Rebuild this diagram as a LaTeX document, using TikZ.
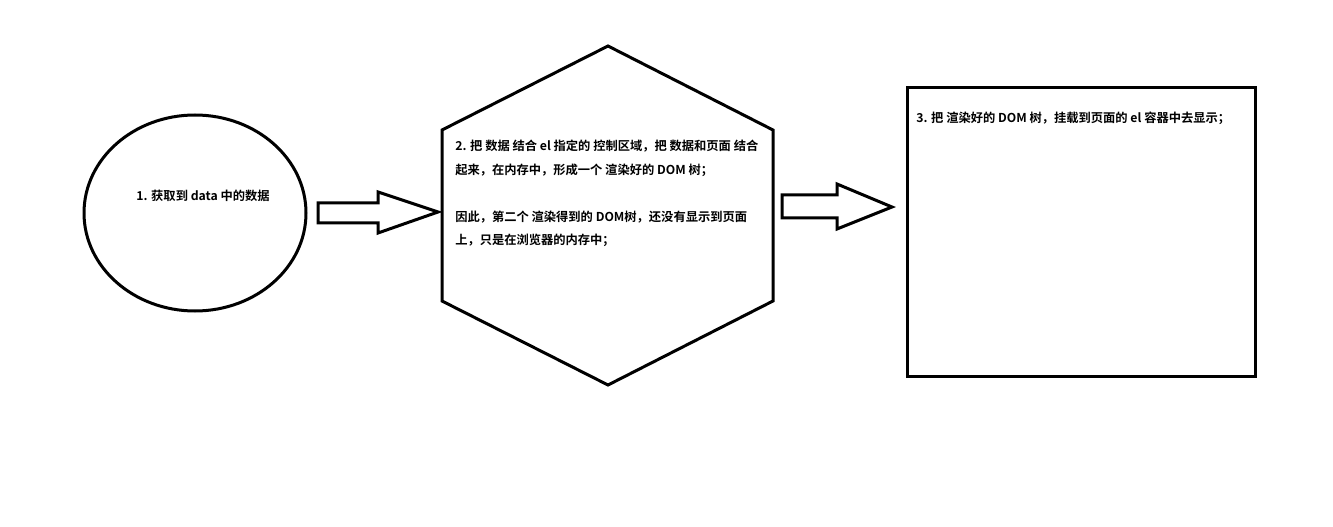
\documentclass[tikz,border=0pt]{standalone}
\usepackage{fontspec}
\setmainfont{Noto Sans CJK SC}[BoldFont={* Bold}]
\usetikzlibrary{shapes.geometric}
\begin{document}
\begin{tikzpicture}[x=0.75pt,y=-0.75pt,
  outline/.style={draw=black,line width=2.25pt,line join=miter},
  lbl/.style={inner sep=0pt,font=\fontsize{9.2pt}{17.6pt}\selectfont\bfseries,align=left}]
\useasboundingbox[fill=white] (0,0) rectangle (1333,527);
% step 1: ellipse
\node[outline,ellipse,minimum width=166.5pt,minimum height=147pt,inner sep=0pt] (e) at (195,213) {};
\node[lbl] (t1) at (203,196) {1. 获取到 data 中的数据};
% arrow 1
\draw[outline] (318,203) -- (378,203) -- (378,192) -- (438,212) -- (378,233) -- (378,223) -- (318,223) -- cycle;
% hexagon
\coordinate (h1) at (608,46);
\coordinate (h2) at (773,130);
\coordinate (h3) at (773,301);
\coordinate (h4) at (608,385);
\coordinate (h5) at (442,301);
\coordinate (h6) at (442,130);
\draw[outline] (h1) -- (h2) -- (h3) -- (h4) -- (h5) -- (h6) -- cycle;
\node[lbl,anchor=north west] (t2) at (455,140) {2. 把 数据 结合 el 指定的 控制区域，把 数据和页面 结合\\
起来，在内存中，形成一个 渲染好的 DOM 树；\\[17.6pt]
因此，第二个 渲染得到的 DOM树，还没有显示到页面\\
上，只是在浏览器的内存中；};
% arrow 2
\draw[outline] (782,195) -- (837,195) -- (837,184) -- (892,207) -- (837,229) -- (837,218) -- (782,218) -- cycle;
% rectangle
\node[outline,rectangle,minimum width=261pt,minimum height=216pt,inner sep=0pt] (r) at (1081,232) {};
\node[lbl,anchor=west] (t3) at (916,118) {3. 把 渲染好的 DOM 树，挂载到页面的 el 容器中去显示；};
\end{tikzpicture}
\end{document}
